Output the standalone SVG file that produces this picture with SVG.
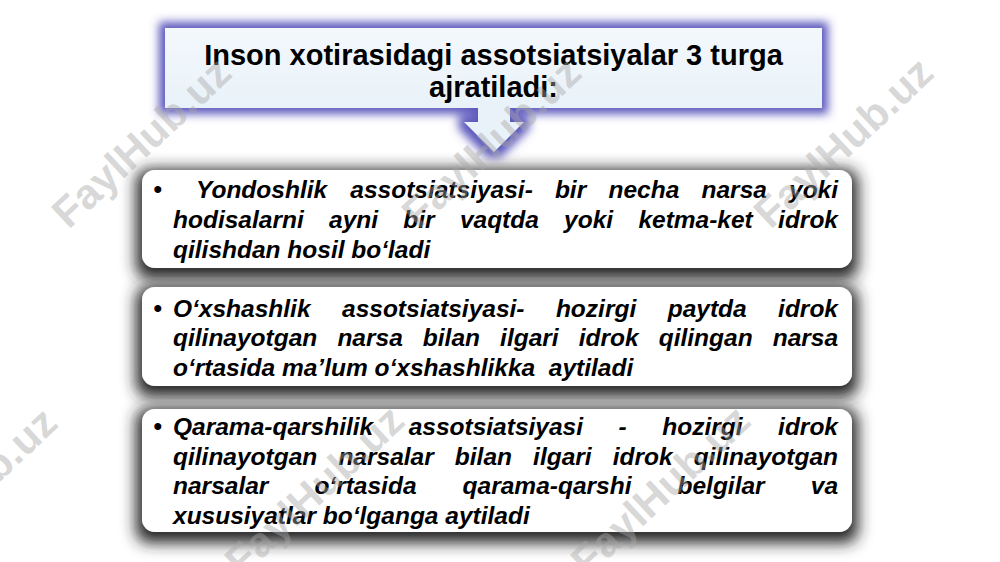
<svg xmlns="http://www.w3.org/2000/svg" width="1000" height="562" viewBox="0 0 1000 562">
<style>
.t{font-family:"Liberation Sans",Arial,sans-serif;font-weight:bold;font-size:29px;fill:#000;text-anchor:middle}
.b{font-family:"Liberation Sans",Arial,sans-serif;font-weight:bold;font-style:italic;font-size:24.5px;fill:#000;white-space:pre}
.bul{font-family:"Liberation Sans",Arial,sans-serif;font-weight:bold;font-size:24.5px;fill:#000}
.box{fill:#ffffff}
.wm{font-family:"Liberation Sans",Arial,sans-serif;font-weight:bold;font-size:42px;fill:#a8a8a8;fill-opacity:0.45;text-anchor:middle}
</style>
<defs>
<linearGradient id="tg" x1="0" y1="0" x2="0" y2="1">
<stop offset="0" stop-color="#f3f8fc"/>
<stop offset="1" stop-color="#e9f2f9"/>
</linearGradient>
<filter id="glow" x="-10%" y="-40%" width="120%" height="180%">
<feMorphology in="SourceAlpha" operator="dilate" radius="6" result="d"/>
<feGaussianBlur in="d" stdDeviation="5" result="bl"/>
<feFlood flood-color="#5d59bd" flood-opacity="1"/>
<feComposite in2="bl" operator="in"/>
</filter>
<filter id="shadow" x="-10%" y="-40%" width="120%" height="190%">
<feMorphology in="SourceAlpha" operator="dilate" radius="6" result="d"/>
<feGaussianBlur in="d" stdDeviation="7.5" result="bl"/>
<feOffset in="bl" dy="5" result="o"/>
<feFlood flood-color="#262626" flood-opacity="1"/>
<feComposite in2="o" operator="in" result="s"/>
<feMerge><feMergeNode in="s"/><feMergeNode in="SourceGraphic"/></feMerge>
</filter>
</defs>
<rect width="1000" height="562" fill="#ffffff"/>

<g id="title">
<path d="M165,28 H822 V108 H510 V122 H524 L494,152 L464,122 H478 V108 H165 Z" fill="#5d59bd" filter="url(#glow)"/>
<rect x="165" y="28" width="657" height="80" fill="url(#tg)"/>
<text class="t" x="493.5" y="65">Inson xotirasidagi assotsiatsiyalar 3 turga</text>
<text class="t" x="493.5" y="97">ajratiladi:</text>
</g>

<g id="connectors">
<path d="M478,107 H510 V122 H524 L494,152 L464,122 H478 Z" fill="#eaf2f9"/>
</g>

<g id="box1">
<rect class="box" x="142" y="170" width="710" height="98" rx="13" filter="url(#shadow)"/>
<text class="bul" x="153.5" y="198">•</text>
<text class="b" y="198"><tspan x="196">Yondoshlik</tspan><tspan x="350.3">assotsiatsiyasi-</tspan><tspan x="554.9">bir</tspan><tspan x="608.5">necha</tspan><tspan x="701.5">narsa</tspan><tspan x="789">yoki</tspan></text>
<text class="b" y="228"><tspan x="173">hodisalarni</tspan><tspan x="329">ayni</tspan><tspan x="403.3">bir</tspan><tspan x="459.9">vaqtda</tspan><tspan x="564.1">yoki</tspan><tspan x="638.4">ketma-ket</tspan><tspan x="778.1">idrok</tspan></text>
<text class="b" x="173" y="258">qilishdan hosil bo‘ladi</text>
</g>

<g id="box2">
<rect class="box" x="142" y="287" width="710" height="99" rx="13" filter="url(#shadow)"/>
<text class="bul" x="153.5" y="316.5">•</text>
<text class="b" y="316.5"><tspan x="173">O‘xshashlik</tspan><tspan x="342">assotsiatsiyasi-</tspan><tspan x="555.9">hozirgi</tspan><tspan x="667.7">paytda</tspan><tspan x="778.1">idrok</tspan></text>
<text class="b" y="346"><tspan x="173">qilinayotgan</tspan><tspan x="337.4">narsa</tspan><tspan x="422.8">bilan</tspan><tspan x="500.1">ilgari</tspan><tspan x="578.7">idrok</tspan><tspan x="658.7">qilingan</tspan><tspan x="772.7">narsa</tspan></text>
<text class="b" x="173" y="375.5">o‘rtasida ma’lum o‘xshashlikka  aytiladi</text>
</g>

<g id="box3">
<rect class="box" x="142" y="409" width="710" height="123" rx="13" filter="url(#shadow)"/>
<text class="bul" x="153.5" y="435">•</text>
<text class="b" y="435"><tspan x="173">Qarama-qarshilik</tspan><tspan x="408.7">assotsiatsiyasi</tspan><tspan x="618.6">-</tspan><tspan x="662.3">hozirgi</tspan><tspan x="778.1">idrok</tspan></text>
<text class="b" y="464.5"><tspan x="173">qilinayotgan</tspan><tspan x="338.4">narsalar</tspan><tspan x="454.8">bilan</tspan><tspan x="533.1">ilgari</tspan><tspan x="612.7">idrok</tspan><tspan x="693.7">qilinayotgan</tspan></text>
<text class="b" y="494"><tspan x="173">narsalar</tspan><tspan x="314.4">o‘rtasida</tspan><tspan x="462.6">qarama-qarshi</tspan><tspan x="677.5">belgilar</tspan><tspan x="810.8">va</tspan></text>
<text class="b" x="173" y="523.5">xususiyatlar bo‘lganga aytiladi</text>
</g>

<g id="watermarks">
<text class="wm" transform="translate(141,142) rotate(-43)" x="0" y="15" textLength="226" lengthAdjust="spacingAndGlyphs">FaylHub.uz</text>
<text class="wm" transform="translate(491,142) rotate(-43)" x="0" y="15" textLength="226" lengthAdjust="spacingAndGlyphs">FaylHub.uz</text>
<text class="wm" transform="translate(843,142) rotate(-43)" x="0" y="15" textLength="226" lengthAdjust="spacingAndGlyphs">FaylHub.uz</text>
<text class="wm" transform="translate(-33,492) rotate(-43)" x="0" y="15" textLength="226" lengthAdjust="spacingAndGlyphs">FaylHub.uz</text>
<text class="wm" transform="translate(314,490) rotate(-43)" x="0" y="15" textLength="226" lengthAdjust="spacingAndGlyphs">FaylHub.uz</text>
<text class="wm" transform="translate(660,490) rotate(-43)" x="0" y="15" textLength="226" lengthAdjust="spacingAndGlyphs">FaylHub.uz</text>
</g>
</svg>
